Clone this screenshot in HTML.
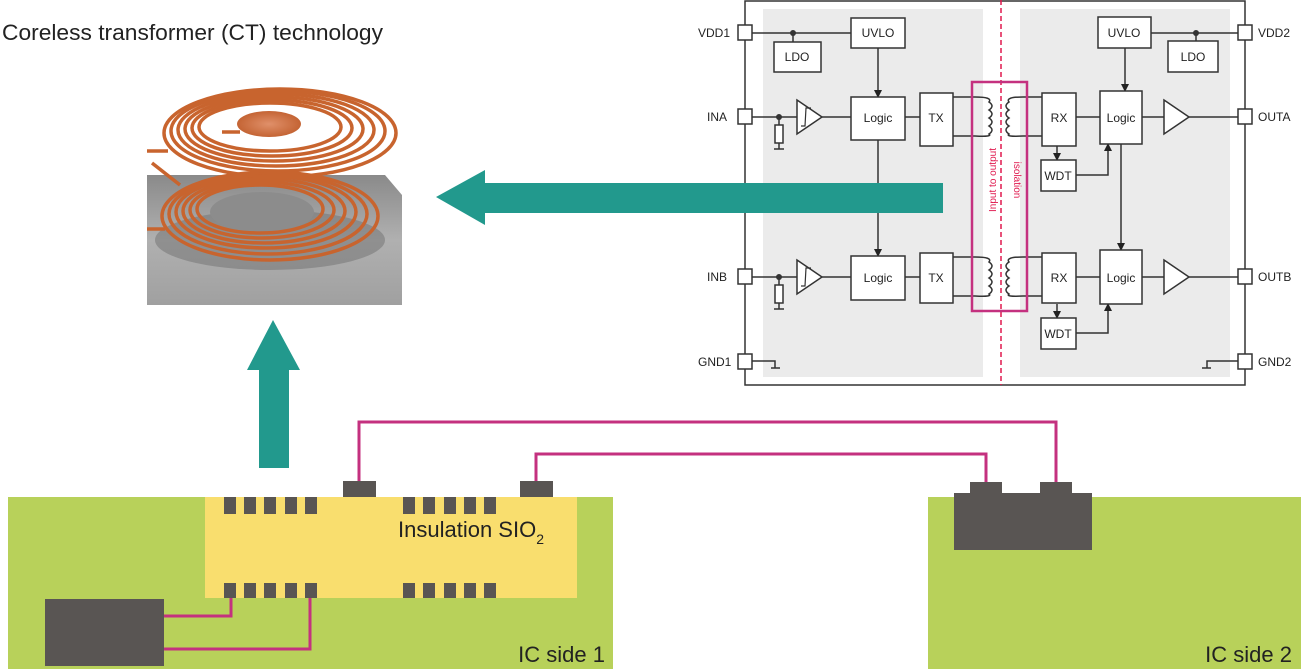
<!DOCTYPE html>
<html><head><meta charset="utf-8"><style>
html,body{margin:0;padding:0;background:#fff;}
svg{display:block;font-family:"Liberation Sans",sans-serif;}
</style></head><body>
<svg width="1301" height="670" viewBox="0 0 1301 670" xmlns="http://www.w3.org/2000/svg">
<defs>
<linearGradient id="slab" x1="0" y1="0" x2="0" y2="1">
<stop offset="0" stop-color="#8a8a8a"/><stop offset="0.5" stop-color="#b0b0b0"/><stop offset="1" stop-color="#a0a0a0"/>
</linearGradient>
<radialGradient id="disk"><stop offset="0" stop-color="#e0906a"/><stop offset="1" stop-color="#c46434"/></radialGradient>
<marker id="ah" markerWidth="8" markerHeight="8" refX="7" refY="4" orient="auto" markerUnits="userSpaceOnUse"><path d="M0,0 L8,4 L0,8 z" fill="#222"/></marker>
</defs>
<text x="2" y="40" font-size="22" fill="#222" textLength="381" lengthAdjust="spacingAndGlyphs">Coreless transformer (CT) technology</text>

<!-- coil image -->
<path d="M147,175 L385,175 L402,195 L402,305 L147,305 z" fill="url(#slab)"/>
<ellipse cx="270" cy="240" rx="115" ry="30" fill="#6f6f6f" opacity="0.5"/>
<ellipse cx="262" cy="212" rx="52" ry="20" fill="#8c8c8c"/>
<g fill="none" stroke="#c8642e" stroke-width="3.5">
<ellipse cx="270" cy="216" rx="108" ry="44"/>
<ellipse cx="268" cy="214" rx="99" ry="40"/>
<ellipse cx="266" cy="212" rx="90" ry="36"/>
<ellipse cx="264" cy="211" rx="81" ry="32"/>
<ellipse cx="262" cy="210" rx="72" ry="28"/>
<ellipse cx="260" cy="209" rx="63" ry="24"/>
<path d="M147,229 L165,229 M152,163 L180,185"/>
</g>
<g fill="none" stroke="#c8642e" stroke-width="3.5">
<ellipse cx="280" cy="133" rx="116" ry="44"/>
<ellipse cx="278" cy="131" rx="107" ry="40"/>
<ellipse cx="276" cy="130" rx="98" ry="36"/>
<ellipse cx="274" cy="129" rx="89" ry="32"/>
<ellipse cx="272" cy="128" rx="80" ry="28"/>
<ellipse cx="270" cy="127" rx="71" ry="24"/>
<path d="M147,151 L168,151 M240,132 L222,132"/>
</g>
<ellipse cx="269" cy="124" rx="32" ry="13" fill="url(#disk)"/>

<path d="M259,468 L259,370 L247,370 L273,320 L300,370 L289,370 L289,468 z" fill="#22998d"/>

<!-- block diagram -->
<rect x="745" y="1" width="500" height="384" fill="#fff" stroke="#333" stroke-width="1.5"/>
<rect x="763" y="9" width="220" height="368" fill="#ebebeb"/>
<rect x="1020" y="9" width="210" height="368" fill="#ebebeb"/>
<line x1="1001" y1="0" x2="1001" y2="385" stroke="#e0194e" stroke-width="1.5" stroke-dasharray="5,3"/>
<g font-size="12" fill="#222">
<text x="698" y="37">VDD1</text><text x="707" y="121">INA</text><text x="707" y="281">INB</text><text x="698" y="366">GND1</text>
<text x="1258" y="37">VDD2</text><text x="1258" y="121">OUTA</text><text x="1258" y="281">OUTB</text><text x="1258" y="366">GND2</text>
</g>
<g fill="#fff" stroke="#333" stroke-width="1.5">
<rect x="738" y="25" width="14" height="15"/><rect x="738" y="109" width="14" height="15"/><rect x="738" y="269" width="14" height="15"/><rect x="738" y="354" width="14" height="15"/>
<rect x="1238" y="25" width="14" height="15"/><rect x="1238" y="109" width="14" height="15"/><rect x="1238" y="269" width="14" height="15"/><rect x="1238" y="354" width="14" height="15"/>
</g>
<g stroke="#333" stroke-width="1.5" fill="none">
<path d="M752,33 L851,33 M793,33 L793,42"/>
<path d="M1151,33 L1238,33 M1196,33 L1196,41"/>
<path d="M752,117 L797,117 M822,117 L851,117 M905,117 L920,117 M1076,117 L1100,117 M1142,117 L1164,117 M1189,117 L1238,117"/>
<path d="M752,277 L797,277 M822,277 L851,277 M905,277 L920,277 M1076,277 L1100,277 M1142,277 L1164,277 M1189,277 L1238,277"/>
<path d="M779,117 L779,125 M779,143 L779,149 M774,149 L784,149"/>
<path d="M779,277 L779,285 M779,303 L779,309 M774,309 L784,309"/>
<path d="M752,361 L775,361 L775,368 M771,368 L780,368"/>
<path d="M1238,361 L1207,361 L1207,368 M1202,368 L1211,368"/>
<path d="M953,97 L975,97 Q993,97 989,102 Q995,106 989,110 Q995,114 989,118 Q995,122 989,126 Q995,130 989,134 Q993,137 975,136 L953,136"/>
<path d="M1042,97 L1023,97 Q1005,97 1009,102 Q1003,106 1009,110 Q1003,114 1009,118 Q1003,122 1009,126 Q1003,130 1009,134 Q1005,137 1023,136 L1042,136"/>
<path d="M953,257 L975,257 Q993,257 989,262 Q995,266 989,270 Q995,274 989,278 Q995,282 989,286 Q995,290 989,294 Q993,297 975,296 L953,296"/>
<path d="M1042,257 L1023,257 Q1005,257 1009,262 Q1003,266 1009,270 Q1003,274 1009,278 Q1003,282 1009,286 Q1003,290 1009,294 Q1005,297 1023,296 L1042,296"/>
</g>
<g stroke="#333" stroke-width="1.5" fill="none" marker-end="url(#ah)">
<path d="M878,48 L878,97"/>
<path d="M878,140 L878,256"/>
<path d="M1125,48 L1125,91"/>
<path d="M1121,144 L1121,250"/>
<path d="M1057,146 L1057,160"/>
<path d="M1057,304 L1057,318"/>
<path d="M1076,175 L1108,175 L1108,144"/>
<path d="M1076,333 L1108,333 L1108,304"/>
</g>
<circle cx="793" cy="33" r="3" fill="#333"/><circle cx="1196" cy="33" r="3" fill="#333"/>
<circle cx="779" cy="117" r="3" fill="#333"/><circle cx="779" cy="277" r="3" fill="#333"/>
<g fill="#fff" stroke="#333" stroke-width="1.5">
<rect x="775" y="125" width="8" height="18"/><rect x="775" y="285" width="8" height="18"/>
<rect x="851" y="18" width="54" height="30"/><rect x="774" y="42" width="47" height="30"/>
<rect x="1098" y="17" width="53" height="31"/><rect x="1168" y="41" width="50" height="31"/>
<rect x="851" y="97" width="54" height="43"/><rect x="920" y="93" width="33" height="53"/>
<rect x="1042" y="93" width="34" height="53"/><rect x="1100" y="91" width="42" height="53"/>
<rect x="1041" y="160" width="35" height="31"/>
<rect x="851" y="256" width="54" height="44"/><rect x="920" y="253" width="33" height="50"/>
<rect x="1042" y="253" width="34" height="50"/><rect x="1100" y="250" width="42" height="54"/>
<rect x="1041" y="318" width="35" height="31"/>
<path d="M797,100 L822,117 L797,134 z"/><path d="M797,260 L822,277 L797,294 z"/>
<path d="M1164,100 L1189,117 L1164,134 z"/><path d="M1164,260 L1189,277 L1164,294 z"/>
</g>
<g stroke="#333" stroke-width="1.2" fill="none">
<path d="M801,126 L805,126 L806,108 L811,108"/><path d="M801,286 L805,286 L806,268 L811,268"/>
</g>
<g font-size="12" fill="#222" text-anchor="middle">
<text x="878" y="37">UVLO</text><text x="797" y="61">LDO</text>
<text x="1124" y="37">UVLO</text><text x="1193" y="61">LDO</text>
<text x="878" y="122">Logic</text><text x="936" y="122">TX</text><text x="1059" y="122">RX</text><text x="1121" y="122">Logic</text>
<text x="1058" y="180">WDT</text>
<text x="878" y="282">Logic</text><text x="936" y="282">TX</text><text x="1059" y="282">RX</text><text x="1121" y="282">Logic</text>
<text x="1058" y="338">WDT</text>
</g>
<rect x="972" y="82" width="55" height="229" fill="none" stroke="#c4317f" stroke-width="2.5"/>
<g font-size="10" fill="#e0194e" text-anchor="middle">
<text transform="translate(996,180) rotate(-90)">Input to output</text>
<text transform="translate(1014,180) rotate(90)">isolation</text>
</g>

<!-- left arrow on top of diagram -->
<path d="M943,183 L485,183 L485,170 L436,197 L485,225 L485,213 L943,213 z" fill="#22998d"/>

<!-- bottom -->
<rect x="8" y="497" width="605" height="172" fill="#b8d15a"/>
<rect x="928" y="497" width="373" height="172" fill="#b8d15a"/>
<rect x="205" y="497" width="372" height="101" fill="#f9de6e"/>
<g fill="#595553">
<rect x="224" y="497" width="12" height="17"/><rect x="244" y="497" width="12" height="17"/><rect x="264" y="497" width="12" height="17"/><rect x="285" y="497" width="12" height="17"/><rect x="305" y="497" width="12" height="17"/>
<rect x="403" y="497" width="12" height="17"/><rect x="423" y="497" width="12" height="17"/><rect x="444" y="497" width="12" height="17"/><rect x="464" y="497" width="12" height="17"/><rect x="484" y="497" width="12" height="17"/>
<rect x="224" y="583" width="12" height="15"/><rect x="244" y="583" width="12" height="15"/><rect x="264" y="583" width="12" height="15"/><rect x="285" y="583" width="12" height="15"/><rect x="305" y="583" width="12" height="15"/>
<rect x="403" y="583" width="12" height="15"/><rect x="423" y="583" width="12" height="15"/><rect x="444" y="583" width="12" height="15"/><rect x="464" y="583" width="12" height="15"/><rect x="484" y="583" width="12" height="15"/>
<rect x="343" y="481" width="33" height="16"/><rect x="520" y="481" width="33" height="16"/>
<rect x="45" y="599" width="119" height="67"/>
<rect x="954" y="493" width="138" height="57"/>
<rect x="970" y="482" width="32" height="12"/><rect x="1040" y="482" width="32" height="12"/>
</g>
<g fill="none" stroke="#c4317f" stroke-width="3">
<path d="M359,481 L359,422 L1056,422 L1056,482"/>
<path d="M536,481 L536,454 L986,454 L986,482"/>
<path d="M164,616 L231,616 L231,598"/>
<path d="M164,649 L310,649 L310,598"/>
</g>
<text x="398" y="537" font-size="22" fill="#222">Insulation SIO<tspan font-size="14" dy="7">2</tspan></text>
<text x="605" y="662" font-size="22" fill="#222" text-anchor="end">IC side 1</text>
<text x="1292" y="662" font-size="22" fill="#222" text-anchor="end">IC side 2</text>
</svg>
</body></html>
